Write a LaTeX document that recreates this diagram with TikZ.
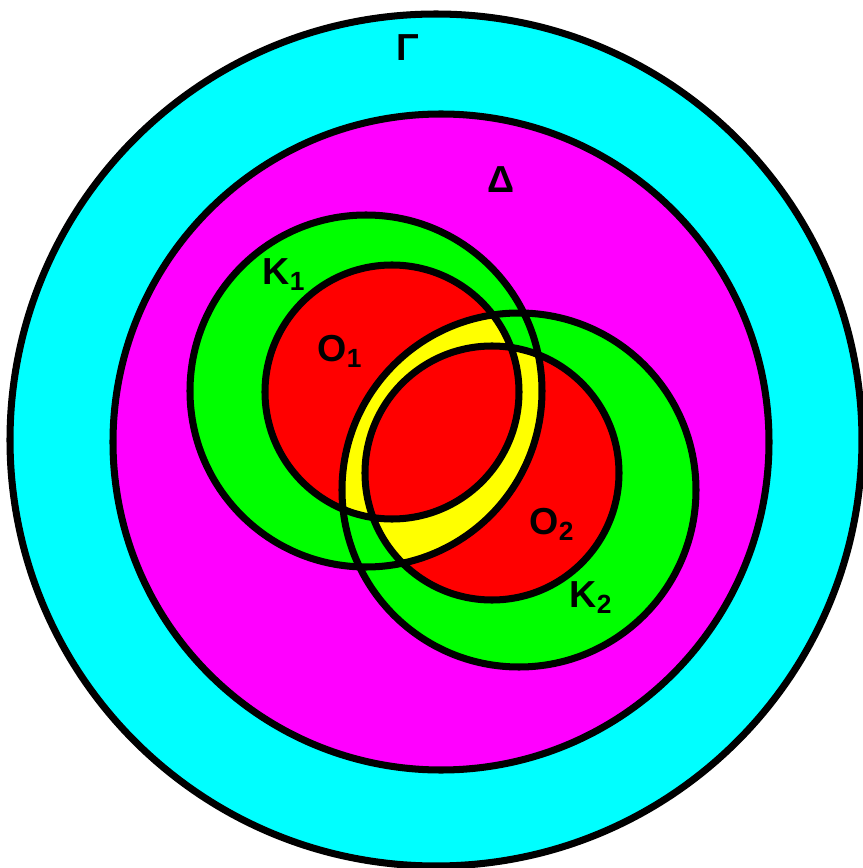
\documentclass[tikz,border=0pt]{standalone}
\usepackage{fontspec}
\setmainfont{Liberation Sans}
\usepackage{tikz}
\usetikzlibrary{positioning}
\definecolor{gammacol}{RGB}{0,255,255}
\definecolor{deltacol}{RGB}{255,0,255}
\definecolor{kcol}{RGB}{0,255,0}
\definecolor{ocol}{RGB}{255,0,0}
\definecolor{ycol}{RGB}{255,255,0}
\begin{document}
\begin{tikzpicture}[
  ring/.style={draw=black,line width=2pt},
  setlabel/.style={
    anchor=base west,
    inner sep=0pt,
    font=\fontsize{10.7}{12}\selectfont\bfseries
  }
]
  \useasboundingbox (0,0) rectangle (8.63,8.68);

  \coordinate (G) at (4.36,4.28);
  \coordinate (D) at (4.41,4.26);
  \coordinate (K1) at (3.66,4.77);
  \coordinate (O1) at (3.92,4.76);
  \coordinate (K2) at (5.19,3.78);
  \coordinate (O2) at (4.92,3.95);

  \fill[gammacol] (G) circle[radius=4.26];
  \fill[deltacol] (D) circle[radius=3.28];
  \fill[kcol] (K1) circle[radius=1.76];
  \fill[kcol] (K2) circle[radius=1.77];
  \fill[ocol] (O1) circle[radius=1.27];
  \fill[ocol] (O2) circle[radius=1.27];

  % the ring where only one of O1, O2 lies inside K1 and K2
  \begin{scope}
    \clip (K1) circle[radius=1.76];
    \clip (K2) circle[radius=1.77];
    \fill[ycol,even odd rule] (O1) circle[radius=1.27] (O2) circle[radius=1.27];
  \end{scope}

  \draw[ring] (G) circle[radius=4.26];
  \draw[ring] (D) circle[radius=3.28];
  \draw[ring] (K1) circle[radius=1.76];
  \draw[ring] (K2) circle[radius=1.77];
  \draw[ring] (O1) circle[radius=1.27];
  \draw[ring] (O2) circle[radius=1.27];

  \node[setlabel] (gamma) at (3.96,8.07) {Γ};
  \node[setlabel] (delta) at (4.87,6.75) {Δ};
  \node[setlabel] (k1) at (2.62,5.83) {K\textsubscript{1}};
  \node[setlabel] (o1) at (3.17,5.06) {O\textsubscript{1}};
  \node[setlabel] (o2) at (5.29,3.33) {O\textsubscript{2}};
  \node[setlabel] (k2) at (5.69,2.60) {K\textsubscript{2}};
\end{tikzpicture}
\end{document}
